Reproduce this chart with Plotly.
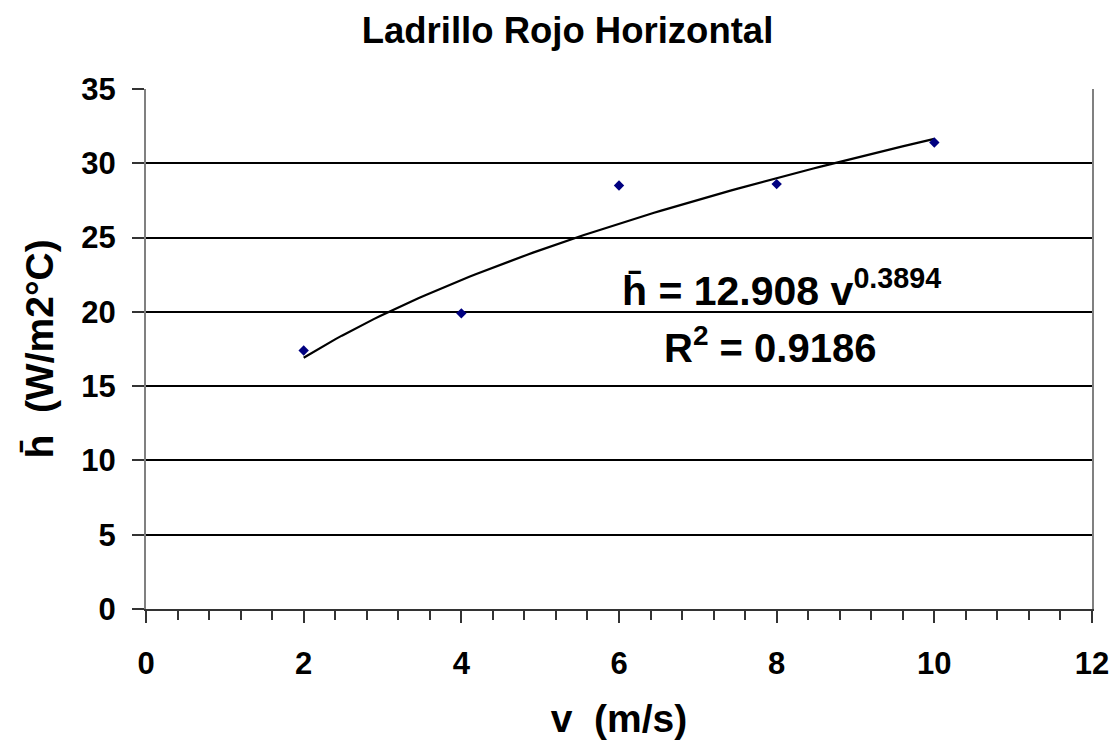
import numpy as np
import plotly.graph_objects as go

# Data
v_vals = [2, 4, 6, 8, 10]
h_vals = [17.4, 19.9, 28.5, 28.6, 31.4]
fit_coef = 12.908
fit_exp = 0.3894
r2 = 0.9186
title_text = "Ladrillo Rojo Horizontal"
x_title = "v  (m/s)"
y_title = "h\u0304  (W/m2°C)"

v_fit = np.linspace(min(v_vals), max(v_vals), 100)
h_fit = fit_coef * v_fit ** fit_exp

FONT = "Liberation Sans, Arial, sans-serif"

fig = go.Figure()
fig.add_trace(go.Scatter(x=v_fit, y=h_fit, mode="lines",
                         line=dict(color="black", width=2.2), hoverinfo="skip", showlegend=False))
fig.add_trace(go.Scatter(x=v_vals, y=h_vals, mode="markers",
                         marker=dict(symbol="diamond", size=8, color="#000080"), showlegend=False))

fig.update_layout(
    width=1119, height=740,
    margin=dict(l=138, r=35, t=81, b=139),
    paper_bgcolor="white", plot_bgcolor="white",
    font=dict(family=FONT, color="black"),
    title=dict(text=f"<b>{title_text}</b>", x=0.5, xanchor="center", y=0.97, yanchor="middle",
               font=dict(size=36.5, family=FONT, color="black")),
    xaxis=dict(range=[0, 12], tick0=0, dtick=2, showgrid=False, zeroline=False,
               showline=True, linecolor="#333333", linewidth=2,
               ticks="outside", ticklen=12, tickwidth=2, tickcolor="#333333",
               ticklabelstandoff=14,
               minor=dict(dtick=0.4, ticks="outside", ticklen=9, tickwidth=2, tickcolor="#333333"),
               tickfont=dict(size=31, family=FONT, color="black"),
               tickprefix="<b>", ticksuffix="</b>",
               title=dict(text=f"<b>{x_title}</b>", font=dict(size=39, family=FONT, color="black"), standoff=24)),
    yaxis=dict(range=[0, 35], tick0=0, dtick=5, showgrid=True, gridcolor="black", gridwidth=1.5,
               zeroline=False, showline=True, linecolor="#808080", linewidth=2, mirror=True,
               ticks="outside", ticklen=12, tickwidth=2, tickcolor="#333333",
               ticklabelstandoff=10,
               tickfont=dict(size=31, family=FONT, color="black"),
               tickprefix="<b>", ticksuffix="</b>",
               title=dict(text=f"<b>{y_title}</b>", font=dict(size=39, family=FONT, color="black"), standoff=16)),
)

fig.add_annotation(x=0.672, xref="paper", y=21.6, yref="y", xanchor="center", yanchor="middle",
                   text=f"<b>h\u0304 = {fit_coef} v<sup>{fit_exp}</sup></b>", showarrow=False,
                   font=dict(size=41, family=FONT, color="black"))
fig.add_annotation(x=0.66, xref="paper", y=17.8, yref="y", xanchor="center", yanchor="middle",
                   text=f"<b>R<sup>2</sup> = {r2}</b>", showarrow=False,
                   font=dict(size=40, family=FONT, color="black"))

fig.write_html("out.html")
